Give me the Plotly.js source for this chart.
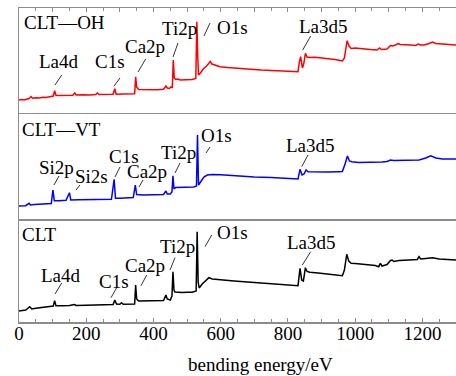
<!DOCTYPE html>
<html><head><meta charset="utf-8">
<script src="https://cdn.plot.ly/plotly-3.0.1.min.js"></script>
<style>body{margin:0;padding:0;background:#fff}#chart{width:456px;height:376px}</style>
</head><body><div id="chart"></div>
<script>
// ---- data (binding energy in eV, intensity in arbitrary units per panel) ----
const ohEnergy = [0,8,15,22,30,36,40,50,60,72,80,95,102,106,110,120,140,160,166,170,190,210,228,233,238,260,280,285,289,310,330,344,347,350,356,380,410,430,437,441,447,452,456,459,462,466,472,480,500,515,526,529,532,534,540,548,558,565,569,574,585,598,620,650,680,700,720,750,780,800,820,830,834,838,843,847,852,857,865,880,900,920,940,955,962,968,976,982,988,1000,1020,1045,1065,1073,1078,1095,1105,1112,1120,1128,1134,1145,1165,1180,1188,1194,1205,1220,1230,1240,1260,1280,1300];
const ohIntensity = [14,14.5,14,15,15.5,17.5,15.8,16.3,16,16.7,16.5,17.5,18,23.3,18.8,18.5,18.7,18.7,21,19,19.3,19,19.5,21,19.5,19.5,19.8,25.3,19.8,20,20,20.3,37.3,27,24.5,24.3,24.3,24.8,28,26,25.5,27,26,54,36,34.5,35,34,34,34.5,35.5,92.3,55,39,41,45,48,51,52.5,50,48.5,47.3,46.5,45.5,45,44.5,44,43.5,43.2,43,42.5,42.3,52,57.3,46,50,60.7,57,56.5,56.8,56,55.5,54.5,53.5,53,56,73.3,68,65.5,66,65,64.5,64,66,64.5,65,68.5,68,69,70.5,69.5,69.5,69,68.5,70,69,69,70.5,72,70.5,70,69.5,69];

const vtEnergy = [0,10,20,30,34,45,60,80,96,101,105,120,140,150,154,180,220,250,275,283,287,300,320,340,346,350,370,400,430,437,441,450,455,458,461,466,480,500,520,528,531,534,540,550,560,575,600,650,700,750,800,830,836,842,848,854,860,880,920,950,962,970,977,983,990,1010,1040,1070,1080,1095,1105,1115,1140,1170,1190,1210,1225,1240,1260,1300];
const vtIntensity = [13,13.5,13.3,15.7,14,14.5,14.8,15,15.5,29,18.3,18.3,18.8,26.3,19,19.2,19.5,19.6,19.7,39.7,20.7,20.8,21,21.5,34,24.5,24,24,24.5,28,25,25,27,43.3,30,31.5,31.7,32,32,33,84,34,37,42,44,44.5,44.2,43,42,41.5,40.5,40,49.7,44,45,49,47.3,47,47,47.3,47.5,55,63,58,57.3,56.5,56.5,56.3,57,57.5,59,58.5,58.5,59,59,61,63.3,61,60,60];

const cltEnergy = [0,10,20,32,38,50,70,95,102,106,110,130,150,165,170,200,230,260,280,285,290,300,305,310,330,344,347,350,356,380,410,430,437,441,450,455,458,461,464,470,485,500,515,527,530,533,536,545,556,565,575,600,640,680,720,760,800,830,836,841,846,852,857,865,890,920,950,962,968,975,981,988,1000,1030,1060,1070,1075,1080,1095,1105,1110,1115,1130,1160,1185,1190,1195,1210,1230,1250,1270,1300];
const cltIntensity = [11,11.5,12,15.3,13,13.7,14.5,15.5,16,21.3,16.3,16.3,16.5,17.5,16.5,16.8,17,17,17.5,22,18,17.8,19.3,17.7,17.7,18,37,23,21,21,21,21.5,27,23,22,26,50.3,32,30,29.7,29.5,29.7,29.8,31,90.3,40,34,38,42,44.3,43,42,41,40,39,38,37,36.3,53.7,42,41,54.3,50.5,49.7,49,48,47,46.3,52,67.7,61,58.7,58.5,57.5,56.5,55.3,58.7,56,57.5,61.5,62,60.5,61.5,62,62.5,65.3,63,63.5,64.3,63,62.5,62];

const tickValues = [0,200,400,600,800,1000,1200];
const tickLabels = ["0","200","400","600","800","1000","1200"];
const sampleNames = ["CLT—OH","CLT—VT","CLT"];
const xTitle = "bending energy/eV";

// peak labels: [text, left px, center px y, leader x0,y0,x1,y1] (pixel positions)
const peakLabels = [
  ["La4d",37,62, 61.7,75,55,85],
  ["C1s",93,62, 120,78,114,86],
  ["Ca2p",123,46.7, 145.7,59,138,72],
  ["Ti2p",160,29, 178,43,173,57],
  ["O1s",215,28, 210,23,204,36],
  ["La3d5",297,27, 310.7,36,302.7,50],
  ["Si2p",37,167, 59,176,54,185],
  ["Si2s",73,176.7, 80,185,76,190],
  ["C1s",107,156, 120,167,115,177],
  ["Ca2p",125,171.7, 143,180,139,187],
  ["Ti2p",159,152.5, 180,163,175,173],
  ["O1s",199,135, 210,147,206,153],
  ["La3d5",284,145.8, 308,155,301.7,166.7],
  ["La4d",39,275, 61.7,283,55,294],
  ["C1s",97,281, 116.7,287.7,111,297.7],
  ["Ca2p",123,265, 146.7,275,141,285.7],
  ["Ti2p",158,247, 175,257.7,170,270],
  ["O1s",215,232.5, 211.7,235,205,246.7],
  ["La3d5",285,243, 310.7,251.7,302.3,265]
];

// ---- layout helpers ----
const W=456,H=376,L=19,R=0,T=8,B=54;
const pw=W-L-R, ph=H-T-B;
const px=x=>(x-L)/pw, py=y=>(H-B-y)/ph;
const FONT="Liberation Serif";
const AX="#8c8c8c";

const traces=[
  {x:ohEnergy,y:ohIntensity,xaxis:'x3',yaxis:'y3',type:'scatter',mode:'lines',line:{color:'#ff0000',width:1.5},hoverinfo:'skip'},
  {x:vtEnergy,y:vtIntensity,xaxis:'x2',yaxis:'y2',type:'scatter',mode:'lines',line:{color:'#0000ff',width:1.5},hoverinfo:'skip'},
  {x:cltEnergy,y:cltIntensity,xaxis:'x',yaxis:'y',type:'scatter',mode:'lines',line:{color:'#000000',width:1.5},hoverinfo:'skip'}
];

const d1=py(219), d2=py(114);
const annotations=[], shapes=[];
const panelLabelPos=[[22,23],[20,129],[20,234.7]];
sampleNames.forEach((s,i)=>annotations.push({text:s,xref:'paper',yref:'paper',x:px(panelLabelPos[i][0]),y:py(panelLabelPos[i][1]),xanchor:'left',yanchor:'middle',showarrow:false,font:{family:FONT,size:19,color:'#000'}}));
peakLabels.forEach(p=>{
  annotations.push({text:p[0],xref:'paper',yref:'paper',x:px(p[1]),y:py(p[2]),xanchor:'left',yanchor:'middle',showarrow:false,font:{family:FONT,size:19,color:'#000'}});
  shapes.push({type:'line',xref:'paper',yref:'paper',x0:px(p[3]),y0:py(p[4]),x1:px(p[5]),y1:py(p[6]),line:{color:'#000',width:0.8}});
});
annotations.push({text:xTitle,xref:'paper',yref:'paper',x:px(260),y:py(364),xanchor:'center',yanchor:'middle',showarrow:false,font:{family:FONT,size:19,color:'#000'}});

const baseX={range:[0,1300],showgrid:false,zeroline:false,showline:true,linecolor:AX,linewidth:1.5};
const baseY={showgrid:false,zeroline:false,showline:true,linecolor:AX,linewidth:1.5,showticklabels:false,ticks:''};
const layout={
  width:W,height:H,margin:{l:L,r:R,t:T,b:B},paper_bgcolor:'#fff',plot_bgcolor:'#fff',showlegend:false,
  font:{family:FONT,size:19,color:'#000'},
  xaxis:Object.assign({},baseX,{anchor:'y',tickmode:'array',tickvals:tickValues,ticktext:tickLabels,ticks:'inside',ticklen:4,tickcolor:AX,tickwidth:1,
     ticklabelstandoff:-6,
     minor:{dtick:50,ticks:'inside',ticklen:3,tickcolor:AX,tickwidth:1},tickfont:{family:FONT,size:19,color:'#000'}}),
  xaxis2:Object.assign({},baseX,{anchor:'y2',matches:'x',showticklabels:false,ticks:'',mirror:true}),
  xaxis3:Object.assign({},baseX,{anchor:'y3',matches:'x',side:'top',showticklabels:false,ticks:'inside',ticklen:4,tickcolor:AX,dtick:100,tick0:0,
     minor:{dtick:50,ticks:'inside',ticklen:3,tickcolor:AX}}),
  yaxis:Object.assign({},baseY,{domain:[0,d1],range:[0,103]}),
  yaxis2:Object.assign({},baseY,{domain:[d1,d2],range:[0,105]}),
  yaxis3:Object.assign({},baseY,{domain:[d2,1],range:[0,106]}),
  annotations:annotations,shapes:shapes
};
Plotly.newPlot('chart',traces,layout,{staticPlot:true,displayModeBar:false});
</script></body></html>
